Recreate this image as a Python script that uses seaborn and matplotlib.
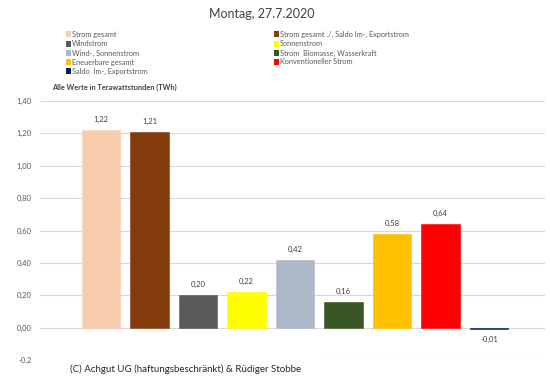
import matplotlib
matplotlib.use("Agg")
import matplotlib.pyplot as plt
import seaborn as sns
import pandas as pd
from matplotlib.patches import Rectangle

categories = ["Strom gesamt", "Strom gesamt ./. Saldo Im-, Exportstrom", "Windstrom",
              "Sonnenstrom", "Wind-, Sonnenstrom", "Strom  Biomasse, Wasserkraft",
              "Eneuerbare gesamt", "Konventioneller Strom", "Saldo  Im-, Exportstrom"]
values = [1.22, 1.21, 0.20, 0.22, 0.42, 0.16, 0.58, 0.64, -0.01]
colors = ["#F8CBAD", "#843C0C", "#595959", "#FFFF00", "#ADB9CA", "#375623",
          "#FFC000", "#FF0000", "#002060"]
yticks = [-0.2, 0.0, 0.2, 0.4, 0.6, 0.8, 1.0, 1.2, 1.4]
ytick_labels = ["-0,2", "0,00", "0,20", "0,40", "0,60", "0,80", "1,00", "1,20", "1,40"]

sns.set_theme(style="white")
plt.rcParams["font.family"] = ["Lato", "DejaVu Sans"]

W, H = 550, 384
fig = plt.figure(figsize=(5.5, 3.84), dpi=100)
ax = fig.add_axes([40 / W, 1 - 360 / H, 505 / W, (360 - 101) / H])

df = pd.DataFrame({"cat": categories, "val": values})
sns.barplot(data=df, x="cat", y="val", hue="cat", palette=colors, legend=False,
            width=0.79, saturation=1, ax=ax, zorder=3)

for cont in ax.containers:
    for patch in cont.patches:
        patch.set_edgecolor(patch.get_facecolor())
        patch.set_linewidth(0.4)

ax.set_ylim(-0.2, 1.4)
ax.set_xlim(-1.258, 9.155)
ax.set_yticks(yticks)
ax.set_yticklabels(ytick_labels, fontsize=5.5, color="#595959")
ax.tick_params(axis="y", length=0, pad=6)
ax.set_xticks([])
ax.set_xlabel("")
ax.set_ylabel("")
for s in ax.spines.values():
    s.set_visible(False)
ax.grid(axis="y", color="#D9D9D9", linewidth=0.8, zorder=0)
ax.set_axisbelow(True)

for cont in ax.containers:
    labels = [f"{v:.2f}".replace(".", ",") for v in cont.datavalues]
    ax.bar_label(cont, labels=labels, padding=5, fontsize=5.5, color="#404040")

# title
fig.text(262 / W, 1 - 14 / H, "Montag, 27.7.2020", ha="center", va="center",
         fontsize=9, color="#404040")

# legend
left_items = [0, 2, 4, 6, 8]
right_items = [1, 3, 5, 7]
rows_y = [34, 44, 53, 62, 71]
for col_x, items in ((68, left_items), (276, right_items)):
    for r, idx in enumerate(items):
        y = rows_y[r]
        fig.patches.append(Rectangle(((col_x - 2.5) / W, 1 - (y + 2.5) / H), 5 / W, 5 / H,
                                     transform=fig.transFigure, facecolor=colors[idx],
                                     edgecolor="none"))
        fig.text((col_x + 4) / W, 1 - y / H, categories[idx], ha="left", va="center",
                 fontsize=5.3, color="#595959")

fig.text(52 / W, 1 - 87 / H, "Alle Werte in Terawattstunden (TWh)", ha="left",
         va="center", fontsize=5.3, color="#404040", fontweight="bold")

# copyright box covering part of bottom gridline
fig.patches.append(Rectangle((40 / W, 1 - 380 / H), 280 / W, 24 / H,
                             transform=fig.transFigure, facecolor="white",
                             edgecolor="none", zorder=5))
fig.text(70 / W, 1 - 369 / H, "(C) Achgut UG (haftungsbeschränkt) & Rüdiger Stobbe",
         ha="left", va="center", fontsize=7, color="#262626", zorder=6)

fig.savefig("out.png", dpi=100)
